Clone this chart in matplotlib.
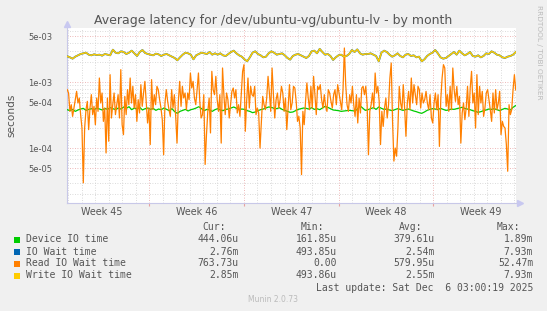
import numpy as np
import matplotlib
matplotlib.use("Agg")
import matplotlib.pyplot as plt
from matplotlib.patches import Rectangle

# ---------------- data (microseconds) ----------------
read_io_wait_us = [
    774, 689, 363, 458, 305, 408, 546, 730, 486, 579, 324, 203, 30, 203, 385, 515, 192, 408, 650, 324,
    433, 228, 579, 363, 1162, 486, 689, 256, 408, 85, 579, 128, 1306, 288, 458, 689, 324, 458, 650, 288,
    1555, 228, 161, 613, 324, 774, 458, 1162, 486, 869, 408, 650, 256, 546, 343, 921, 433, 689, 1035, 515,
    242, 408, 114, 1097, 385, 650, 458, 869, 774, 546, 408, 272, 80, 486, 774, 515, 385, 305, 774, 408,
    650, 305, 120, 515, 1035, 433, 869, 579, 689, 385, 689, 546, 1384, 820, 1035, 579, 458, 774, 1384, 515,
    288, 324, 650, 57, 161, 363, 579, 171, 1467, 774,
    650, 1232, 546, 363, 650, 120, 1648, 650, 324, 689, 546, 288, 458, 730, 820, 579, 774, 343, 458, 305,
    689, 1467, 1850, 181, 515, 1162, 408, 869, 650, 613, 869, 324, 408, 343, 101, 256, 613, 458, 385, 579,
    1232, 689, 363, 1648, 650, 288, 546, 689, 408, 546, 869, 689, 363, 579, 192, 408, 921, 385, 486, 869,
    820, 515, 256, 305, 203, 40, 363, 228, 515, 977, 579, 385, 869, 408, 1232, 650, 324, 869, 774, 921,
    546, 408, 650, 433, 363, 774, 689, 515, 408, 650, 774, 458, 921, 689, 515, 385, 774, 3311, 921, 458,
    363, 650, 486, 869, 458, 305, 650, 242, 579, 343, 820, 869, 650,
    869, 458, 80, 363, 458, 689, 408, 1384, 689, 869, 515, 114, 363, 215, 408, 579, 288, 458, 1162, 1963,
    256, 64, 101, 76, 203, 869, 486, 385, 921, 408, 152, 486, 730, 385, 1162, 486, 921, 650, 458, 869,
    774, 408, 689, 486, 546, 730, 486, 385, 650, 288, 242, 486, 689, 385, 650, 107, 546, 1162, 1850, 1648,
    433, 650, 363, 869, 385, 1648, 774, 515, 869, 458, 613, 120, 343, 486, 272, 408, 869, 305, 820, 1467,
    486, 689, 203, 1306, 324, 869, 486, 730, 305, 408, 689, 774, 546, 385, 256, 689, 343, 774, 385, 486,
    730, 161, 256, 215, 203, 114, 45, 458, 324, 385, 774, 1306, 764,
]

device_io_us = [
    385, 372, 389, 363, 381, 394, 403, 376, 389, 399, 385, 408, 394, 381, 403, 389, 413, 399, 385, 408,
    394, 423, 403, 427, 385, 408, 394, 418, 381, 399, 408, 389, 403, 376, 394, 385, 408, 389, 372, 399,
    359, 339, 363, 376, 389, 368, 385, 394, 408, 427, 399, 372, 389, 381, 363, 385,
    399, 381, 372, 389, 394, 408, 423, 403, 385, 394, 389, 372, 363, 347, 355, 372, 385, 394, 408, 423,
    418, 403, 399, 413, 389, 376, 363, 351, 355, 372, 389, 399, 408, 403, 394, 413, 389, 399, 385, 408,
    432, 418, 399, 381, 376, 372, 363, 368, 372, 376, 372, 368, 389, 442, 408, 376,
    385, 399, 413, 389, 423, 403, 389, 394, 381, 372, 385, 399, 389, 376, 385, 394, 381, 368, 359, 347,
    339, 355, 376, 389, 399, 394, 385, 403, 389, 376, 381, 394, 389, 399, 408, 418, 403, 394, 385, 372,
    363, 351, 359, 372, 381, 394, 389, 399, 385, 372, 389, 403, 394, 381, 418, 444,
]

write_io_wait_us = [
    2476, 2391, 2283, 2448, 2564, 2686, 2749, 2813, 2624, 2564, 2655, 2594, 2624, 2534, 2686, 2624, 2564, 3124, 2813, 2749,
    2947, 2880, 2686, 2813, 3017, 2749, 2505, 2880, 3087, 2781, 2686, 2624, 2564, 2717, 2655, 2505, 2624, 2686, 2564, 2448,
    2337, 2155, 2391, 2624, 2813, 2749, 2624, 2231, 2564, 2686, 2813, 2749, 2686, 2880, 2624, 2749,
    2624, 2749, 2564, 2505, 2686, 2880, 3017, 2749, 2564, 2448, 2231, 2080, 2391, 2813, 2947, 2686, 2564, 2391, 2448, 2749,
    2947, 2813, 2624, 2686, 2749, 2564, 2337, 2205, 2505, 2624, 2686, 2564, 2448, 2337, 2505, 2947, 3017, 2749, 3214, 2880,
    2624, 2686, 2505, 2180, 2391, 2564, 2624, 2448, 2505, 2686, 3087, 2880, 3153, 2749, 2624, 2686,
    2686, 2749, 2624, 2505, 2080, 2813, 3017, 2880, 2624, 2448, 2564, 2749, 2505, 2391, 2624, 2686, 2505, 2564, 2391, 2448,
    2080, 2231, 2505, 2686, 2813, 3087, 2749, 2391, 2283, 2337, 2505, 2686, 2880, 2624, 3017, 2749, 2564, 2686, 2880, 2505,
    2448, 2564, 2391, 2505, 2749, 2686, 2947, 2813, 2624, 2564, 2391, 2337, 2448, 2505, 2624, 2880,
]
# IO Wait time is indistinguishable from Write IO Wait time in the picture
io_wait_us = list(write_io_wait_us)

series_names = ["Device IO time", "IO Wait time", "Read IO Wait time", "Write IO Wait time"]
series_colors = ["#00CC00", "#0066B3", "#FF8000", "#FFCC00"]
cur_vals = ["444.06u", "2.76m", "763.73u", "2.85m"]
min_vals = ["161.85u", "493.85u", "0.00", "493.86u"]
avg_vals = ["379.61u", "2.54m", "579.95u", "2.55m"]
max_vals = ["1.89m", "7.93m", "52.47m", "7.93m"]
week_labels = ["Week 45", "Week 46", "Week 47", "Week 48", "Week 49"]

# time axis: days since Mon 2025-11-03 00:00
t_start, t_end = 0.93, 34.10
x_lo, x_hi = 0.89, 34.12
week_starts = [0, 7, 14, 21, 28]

W, H = 547, 311
fig = plt.figure(figsize=(W / 100, H / 100), dpi=100, facecolor="#F0F0F0")
L, R, T, B = 66.7, 516.0, 28.0, 203.3
ax = fig.add_axes([L / W, 1 - B / H, (R - L) / W, (B - T) / H])
ax.set_facecolor("white")

ax.set_yscale("log")
ax.set_ylim(1.47e-5, 6.65e-3)
ax.set_xlim(x_lo, x_hi)

# grid
grid_gray = "#CFCFCF"
grid_red = "#E8A0A0"
dot = (0, (1, 2))
days = np.arange(1, 35)
for d in days:
    if d % 7 == 0:
        continue
    ax.axvline(d, color=grid_gray, lw=0.6, ls=dot, zorder=0)
for d in week_starts[1:]:
    ax.axvline(d, color=grid_red, lw=0.6, ls=dot, zorder=0)
for dec in [1e-5, 1e-4, 1e-3]:
    for m in range(1, 10):
        v = dec * m
        if v < 1.47e-5 or v > 6.65e-3:
            continue
        c = grid_red if m in (1, 5) else grid_gray
        ax.axhline(v, color=c, lw=0.6, ls=dot, zorder=0)

def to_s(lst):
    return np.array(lst, dtype=float) * 1e-6

series = [device_io_us, io_wait_us, read_io_wait_us, write_io_wait_us]
lws = [0.9, 1.3, 0.9, 1.1]
for vals, col, lw in zip(series, series_colors, lws):
    t = np.linspace(t_start, t_end, len(vals))
    ax.plot(t, to_s(vals), color=col, lw=lw, zorder=3, solid_joinstyle="round")

# ticks
yt = [5e-3, 1e-3, 5e-4, 1e-4, 5e-5]
ax.set_yticks(yt)
ax.set_yticklabels(["5e-03", "1e-03", "5e-04", "1e-04", "5e-05"])
ax.yaxis.set_minor_locator(matplotlib.ticker.NullLocator())
ax.set_xticks(week_starts[1:])
ax.set_xticklabels([])
ax.tick_params(axis="y", length=0, pad=10.5, labelsize=6.0, labelcolor="#555555")
ax.tick_params(axis="x", length=2, color=grid_red, labelsize=6.8)
for i, lab in enumerate(week_labels):
    ax.text(week_starts[i] + 3.5, -0.048, lab, transform=ax.get_xaxis_transform(),
            ha="center", va="center", fontsize=6.9, color="#555555")

for s in ["top", "right"]:
    ax.spines[s].set_visible(False)
for s in ["left", "bottom"]:
    ax.spines[s].set_color("#C8C8E8")
    ax.spines[s].set_linewidth(0.8)
ax.plot([0], [1.025], marker="^", ms=4, color="#C8C8F0", transform=ax.transAxes, clip_on=False)
ax.plot([1.01], [0], marker=">", ms=4, color="#C8C8F0", transform=ax.transAxes, clip_on=False)

def fy(py):
    return 1 - py / H

def fx(px):
    return px / W

fig.text(fx(273), fy(20.5), "Average latency for /dev/ubuntu-vg/ubuntu-lv - by month",
         ha="center", va="center", fontsize=9, color="#555555")
fig.text(fx(11), fy(115), "seconds", rotation=90, ha="center", va="center",
         fontsize=7.6, color="#555555")
fig.text(fx(539), fy(52), "RRDTOOL / TOBI OETIKER", rotation=270, ha="center", va="center",
         fontsize=5.3, color="#BBBBBB")

mono = "DejaVu Sans Mono"
fs = 7.0
tc = "#555555"
hdr_y = 227.3
for xr, lab in zip([225.7, 324.5, 422.2, 519.9], ["Cur:", "Min:", "Avg:", "Max:"]):
    fig.text(fx(xr), fy(hdr_y), lab, ha="right", va="center", family=mono, fontsize=fs, color=tc)
rows_y = [239.5, 251.7, 263.5, 275.5]
for i, name in enumerate(series_names):
    y = rows_y[i]
    fig.patches.append(Rectangle((fx(13.5), fy(y + 3)), 6 / W, 6 / H, transform=fig.transFigure,
                                 facecolor=series_colors[i], edgecolor="none"))
    fig.text(fx(26), fy(y), name, ha="left", va="center", family=mono, fontsize=fs, color=tc)
    for xr, vals in zip([238.3, 336.7, 434.8, 533.1], [cur_vals, min_vals, avg_vals, max_vals]):
        fig.text(fx(xr), fy(y), vals[i], ha="right", va="center", family=mono, fontsize=fs, color=tc)
fig.text(fx(533.1), fy(287.7), "Last update: Sat Dec  6 03:00:19 2025", ha="right", va="center",
         family=mono, fontsize=fs, color=tc)
fig.text(fx(272.5), fy(300), "Munin 2.0.73", ha="center", va="center", fontsize=5.5, color="#BBBBBB")

fig.savefig("out.png", dpi=100, facecolor=fig.get_facecolor())
